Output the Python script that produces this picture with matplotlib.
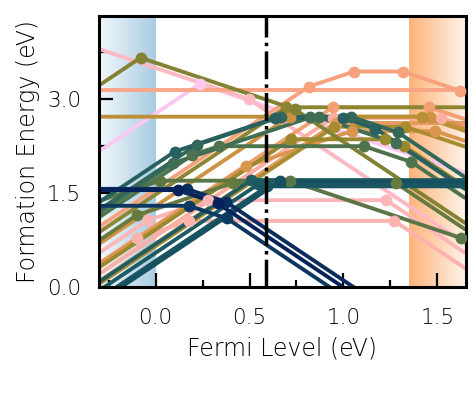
import numpy as np
import matplotlib
matplotlib.use("Agg")
import matplotlib.pyplot as plt
from matplotlib.colors import LinearSegmentedColormap
from matplotlib.ticker import MultipleLocator, FormatStrFormatter

# band edges, fermi level and plot window (eV)
vbm = 0.0
cbm = 1.35
fermi_level = 0.59
x_min, x_max = -0.30, 1.65
y_max = 4.33

# batlow colour map anchors
batlow_hex = ["#011959", "#103F60", "#1C5A62", "#3C6D56", "#687B3E",
              "#9D892B", "#D29343", "#F8A17B", "#FDB7BC", "#FACCFA"]

# one entry per defect: position on the colour map, charge states,
# formation energy of each charge state at the VBM
defect_shade = [
    0.98, 0.90, 0.88, 0.86, 0.84,
    0.80, 0.78, 0.76,
    0.72, 0.69, 0.66, 0.62, 0.58,
    0.55, 0.52, 0.50,
    0.44, 0.41, 0.38,
    0.34, 0.30, 0.26,
    0.24, 0.22, 0.20, 0.18,
    0.09, 0.06, 0.03,
]
defect_charges = [
    [2, -1], [-1, -2], [2, 1, 0, -2], [2, 1, 0, -2], [2, 0, -1],
    [0], [2, 1, 0, -1, -2], [2, 0, -1],
    [2, 0], [2, 1, 0, -1], [2, 0, -1], [0, -1], [2, 0, -1],
    [2, 0, -1, -2], [2, 0], [2, -1, -2],
    [2, 1, 0, -2], [1, 0, -1, -2], [2, 1, 0, -1, -2],
    [2, 1, 0, -1, -2], [2, 1, 0, -1, -2], [2, 1, 0, -1, -2],
    [2, 0], [2, 0], [2, 0], [2, 0],
    [0, -1, -2], [0, -1, -2], [0, -1, -2],
]
defect_e_vbm = [
    [2.77, 3.475], [3.497, 3.994], [1.15, 1.11, 1.39, 3.844], [0.98, 0.88, 1.06, 3.60], [0.814, 2.70, 4.22],
    [3.14], [1.568, 2.384, 3.44, 4.755, 6.374], [0.984, 2.87, 4.327],
    [0.70, 2.62], [0.964, 1.447, 2.49, 3.98], [1.294, 2.72, 4.18], [2.72, 4.14], [0.656, 2.56, 3.89],
    [0.92, 2.36, 3.58, 4.90], [1.48, 2.87], [3.82, 3.58, 4.32],
    [1.35, 1.25, 1.66, 4.22], [1.677, 1.70, 2.413, 4.04], [1.718, 1.914, 2.25, 3.36, 4.72],
    [1.792, 1.886, 2.71, 3.58, 4.86], [1.834, 2.052, 2.72, 3.76, 5.05], [1.959, 2.062, 2.70, 3.70, 4.87],
    [0.69, 1.71], [0.55, 1.64], [0.42, 1.61], [0.37, 1.69],
    [1.30, 1.478, 1.858], [1.57, 1.735, 2.112], [1.55, 1.67, 2.00],
]


def lowest_energy_path(charges, energies):
    # walk along the lowest charge state, return kinks (transition levels)
    q = np.array(charges, dtype=float)
    e = np.array(energies, dtype=float)
    cur = int(np.argmin(e + q * x_min))
    x_cur = x_min
    kinks = []
    while True:
        best = None
        for j in range(len(q)):
            if q[j] < q[cur]:
                xc = (e[j] - e[cur]) / (q[cur] - q[j])
                if xc > x_cur and (best is None or (xc, q[j]) < best[:2]):
                    best = (xc, q[j], j)
        if best is None or best[0] >= x_max:
            break
        x_cur, cur = best[0], best[2]
        kinks.append(x_cur)
    xs = np.array([x_min] + kinks + [x_max])
    ys = np.min(e[None, :] + q[None, :] * xs[:, None], axis=1)
    return xs, ys, np.array(kinks)


plt.rcParams['font.family'] = ['DejaVu Sans']
plt.rcParams['font.weight'] = 'light'
plt.rcParams['axes.labelweight'] = 'light'

batlow = LinearSegmentedColormap.from_list("batlow", batlow_hex)

fig = plt.figure(figsize=(4.77, 3.98), dpi=100)
ax = fig.add_subplot(111)
fig.subplots_adjust(left=0.208, right=0.976, bottom=0.278, top=0.9606)

# shaded valence / conduction bands
grad = np.linspace(0, 1, 256)[None, :]
vb_cmap = LinearSegmentedColormap.from_list("vb", ["#f3f8fc", "#a8cce1"])
cb_cmap = LinearSegmentedColormap.from_list("cb", ["#fdb47a", "#fff3ea"])
ax.imshow(grad, extent=(x_min, vbm, 0, y_max), cmap=vb_cmap, aspect='auto', zorder=0)
ax.imshow(grad, extent=(cbm, x_max, 0, y_max), cmap=cb_cmap, aspect='auto', zorder=0)

for shade, charges, energies in zip(defect_shade, defect_charges, defect_e_vbm):
    col = batlow(shade)
    xs, ys, kinks = lowest_energy_path(charges, energies)
    ax.plot(xs, ys, color=col, lw=2.8, solid_capstyle='butt', zorder=2)
    if len(kinks):
        ky = np.min(np.array(energies)[None, :] + np.array(charges)[None, :] * kinks[:, None], axis=1)
        ax.plot(kinks, ky, 'o', color=col, ms=8.5, mew=0, zorder=3)

ax.axvline(fermi_level, color='k', lw=2.5, ls=(0, (8, 1.5, 1, 1.5)), zorder=5)

ax.set_xlim(x_min, x_max)
ax.set_ylim(0, y_max)
ax.xaxis.set_major_locator(MultipleLocator(0.5))
ax.xaxis.set_minor_locator(MultipleLocator(0.25))
ax.yaxis.set_major_locator(MultipleLocator(1.5))
ax.yaxis.set_minor_locator(MultipleLocator(0.75))
ax.xaxis.set_major_formatter(FormatStrFormatter('%.1f'))
ax.yaxis.set_major_formatter(FormatStrFormatter('%.1f'))
ax.tick_params(which='both', direction='in', top=False, right=False, width=1.6, labelsize=15.5)
ax.tick_params(axis='x', which='major', pad=15)
ax.tick_params(axis='y', which='major', pad=13)
ax.tick_params(which='major', length=10)
ax.tick_params(which='minor', length=5)
for sp in ax.spines.values():
    sp.set_linewidth(2.2)

ax.set_xlabel('Fermi Level (eV)', fontsize=17, fontweight='light', labelpad=6)
ax.set_ylabel('Formation Energy (eV)', fontsize=17, fontweight='light', labelpad=5)

fig.savefig('out.png', dpi=100)
